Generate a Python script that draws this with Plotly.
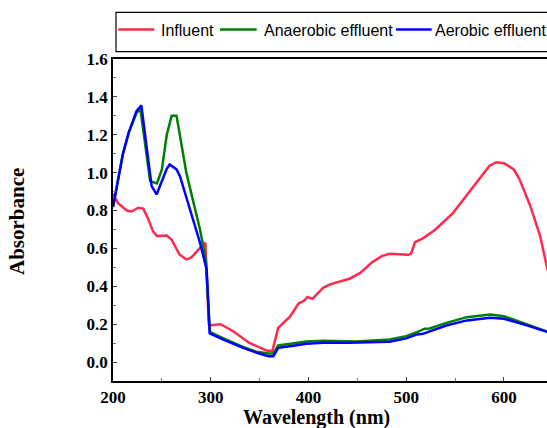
import plotly.graph_objects as go

# ---------------- data ----------------
influent_x = [200, 205, 214, 219, 226, 231, 236, 241, 245, 255, 260, 268, 275, 280, 289, 294.5, 298,
              300, 310, 323, 339, 357, 363, 369, 381, 390, 395, 399, 404, 415, 422, 442, 453, 465,
              475, 483, 502, 505, 509, 517, 529, 548, 565, 579, 585, 592, 600, 610, 616, 627, 637, 644, 650]
influent_y = [0.89, 0.84, 0.80, 0.795, 0.815, 0.81, 0.755, 0.69, 0.665, 0.668, 0.645, 0.568, 0.542, 0.551,
              0.603, 0.63, 0.20, 0.195, 0.20, 0.163, 0.102, 0.061, 0.058, 0.18, 0.24, 0.31, 0.322, 0.343,
              0.334, 0.392, 0.41, 0.44, 0.471, 0.527, 0.559, 0.572, 0.566, 0.573, 0.633, 0.653, 0.696,
              0.788, 0.902, 0.999, 1.035, 1.055, 1.05, 1.017, 0.964, 0.823, 0.665, 0.50, 0.39]

anaerobic_x = [200, 205, 210, 216, 224, 228, 238, 245, 250, 255, 260, 265, 275, 289, 295, 299,
               313, 333, 347, 359, 364, 369, 381, 398, 415, 430, 449, 483, 500, 511, 519, 524,
               541, 562, 586, 600, 620, 644, 650]
anaerobic_y = [0.818, 0.96, 1.096, 1.21, 1.315, 1.335, 0.955, 0.943, 1.017, 1.20, 1.30, 1.30, 1.0,
               0.70, 0.54, 0.16, 0.125, 0.08, 0.054, 0.045, 0.045, 0.088, 0.098, 0.109, 0.113,
               0.112, 0.108, 0.119, 0.137, 0.158, 0.176, 0.177, 0.207, 0.237, 0.251, 0.242,
               0.207, 0.163, 0.15]

aerobic_x = [200, 205, 210, 216, 224, 229, 239.5, 244.6, 251, 255, 258, 265, 268.5, 278.8, 289,
             295.8, 299, 313, 333, 347, 359, 364, 369, 381, 398, 415, 442, 483, 500, 511, 517,
             541, 562, 586, 600, 620, 644, 650]
aerobic_y = [0.818, 0.96, 1.096, 1.21, 1.325, 1.355, 0.929, 0.885, 0.97, 1.02, 1.043, 1.017, 0.981,
             0.806, 0.63, 0.489, 0.151, 0.119, 0.075, 0.049, 0.031, 0.031, 0.075, 0.084, 0.097,
             0.102, 0.102, 0.107, 0.125, 0.146, 0.149, 0.193, 0.22, 0.234, 0.229, 0.199, 0.163, 0.15]

series_names = ["Influent", "Anaerobic effluent", "Aerobic effluent"]
series_colors = ["#ff2a4d", "#008000", "#0000ff"]

x_ticks = [200, 300, 400, 500, 600]
y_ticks = [0.0, 0.2, 0.4, 0.6, 0.8, 1.0, 1.2, 1.4, 1.6]
y_tick_text = ["0.0", "0.2", "0.4", "0.6", "0.8", "1.0", "1.2", "1.4", "1.6"]

# ---------------- figure ----------------
W, H = 547, 428
ML, MR, MT, MB = 113, 0, 59, 47
PW, PH = W - ML - MR, H - MT - MB

def px_x(p):
    return (p - ML) / PW

def px_y(p):
    return (H - MB - p) / PH

fig = go.Figure()
for xs, ys, name, col in zip([influent_x, anaerobic_x, aerobic_x],
                             [influent_y, anaerobic_y, aerobic_y],
                             series_names, series_colors):
    fig.add_trace(go.Scatter(x=xs, y=ys, mode="lines", name=name,
                             line=dict(color=col, width=2.5), showlegend=False))

serif = "Liberation Serif, Times New Roman, serif"
sans = "Liberation Sans, Arial, sans-serif"

fig.update_layout(
    width=W, height=H,
    margin=dict(l=ML, r=MR, t=MT, b=MB),
    paper_bgcolor="white", plot_bgcolor="white",
    showlegend=False,
    xaxis=dict(range=[200, 644], tickvals=x_ticks, ticks="inside", ticklen=4,
               showline=True, linecolor="black", linewidth=1.5, mirror=True,
               showgrid=False, zeroline=False,
               minor=dict(dtick=50, ticks="inside", ticklen=3, tickcolor="#777"),
               tickfont=dict(family=serif, size=17, color="black", weight="bold")),
    yaxis=dict(range=[-0.1, 1.6], tickvals=y_ticks, ticktext=y_tick_text,
               ticks="inside", ticklen=4,
               showline=True, linecolor="black", linewidth=1.5,
               showgrid=False, zeroline=False,
               minor=dict(dtick=0.1, ticks="inside", ticklen=3, tickcolor="#777"),
               tickfont=dict(family=serif, size=17, color="black", weight="bold")),
)

annotations = [
    dict(text="Wavelength (nm)", xref="paper", yref="paper", x=px_x(316), y=px_y(417),
         xanchor="center", yanchor="middle", showarrow=False,
         font=dict(family=serif, size=20, color="black", weight="bold")),
    dict(text="Absorbance", xref="paper", yref="paper", x=px_x(17), y=px_y(222),
         xanchor="center", yanchor="middle", showarrow=False, textangle=-90,
         font=dict(family=serif, size=21, color="black", weight="bold")),
]

# legend box drawn manually (it is clipped on the right in the reference)
shapes = [dict(type="rect", xref="paper", yref="paper", x0=px_x(116), x1=px_x(570),
               y0=px_y(51.7), y1=px_y(12.3), line=dict(color="black", width=1.2),
               fillcolor="white", layer="above")]
leg_lines = [(118.3, 154.3), (220, 256.7), (396, 431.7)]
leg_text_x = [159.3, 262.3, 433.3]
for (a, b), tx, name, col in zip(leg_lines, leg_text_x, series_names, series_colors):
    shapes.append(dict(type="line", xref="paper", yref="paper", x0=px_x(a), x1=px_x(b),
                       y0=px_y(29.5), y1=px_y(29.5), line=dict(color=col, width=2.5)))
    annotations.append(dict(text=name, xref="paper", yref="paper", x=px_x(tx), y=px_y(30),
                            xanchor="left", yanchor="middle", showarrow=False,
                            font=dict(family=sans, size=16, color="black")))

fig.update_layout(annotations=annotations, shapes=shapes)
fig.write_html("out.html")
